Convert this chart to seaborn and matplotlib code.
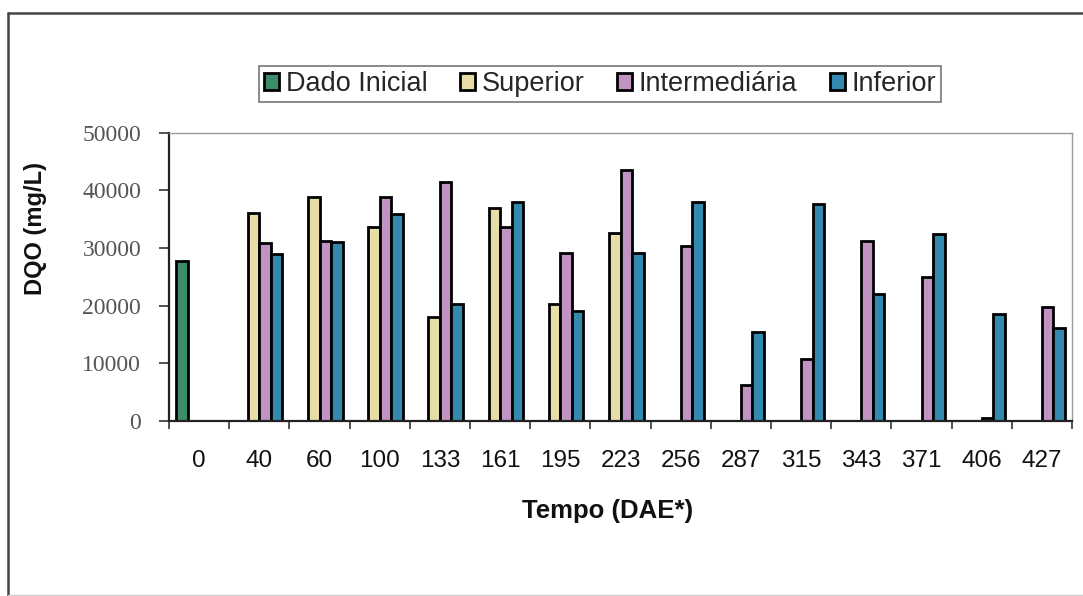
import numpy as np
import pandas as pd
import matplotlib
matplotlib.use("Agg")
import matplotlib.pyplot as plt
from matplotlib.lines import Line2D
import seaborn as sns

nan = np.nan
categories = ["0", "40", "60", "100", "133", "161", "195", "223", "256",
              "287", "315", "343", "371", "406", "427"]
series_names = ["Dado Inicial", "Superior", "Intermediária", "Inferior"]
dado_inicial = [27700, nan, nan, nan, nan, nan, nan, nan, nan, nan, nan, nan, nan, nan, nan]
superior = [nan, 36100, 38800, 33700, 18000, 36900, 20300, 32600, nan, nan, nan, nan, nan, nan, nan]
intermediaria = [nan, 30800, 31300, 38800, 41400, 33600, 29100, 43500, 30400, 6200, 10700, 31200, 24900, 500, 19800]
inferior = [nan, 29000, 31000, 35900, 20300, 38000, 19000, 29100, 38000, 15500, 37600, 22000, 32500, 18600, 16200]
colors = ["#2E9A6B", "#F2E59C", "#C98BCB", "#1F93C2"]

rows = []
for name, vals in zip(series_names, [dado_inicial, superior, intermediaria, inferior]):
    for c, v in zip(categories, vals):
        rows.append({"Tempo": c, "Serie": name, "DQO": v})
df = pd.DataFrame(rows)

sns.set_theme(style="white")
plt.rcParams["font.family"] = ["Liberation Sans", "DejaVu Sans"]

fig = plt.figure(figsize=(10.83, 5.96), dpi=100)
ax = fig.add_axes([169 / 1083, 1 - 421 / 596, (1072 - 169) / 1083, (421 - 132.7) / 596])

sns.barplot(data=df, x="Tempo", y="DQO", hue="Serie", order=categories,
            hue_order=series_names, palette=colors, width=0.77, gap=0,
            edgecolor="black", linewidth=2.0, errorbar=None, ax=ax)

ax.set_xlim(-0.5, len(categories) - 0.5)
ax.set_ylim(0, 50000)
ax.set_yticks([0, 10000, 20000, 30000, 40000, 50000])
ax.set_yticklabels(["0", "10000", "20000", "30000", "40000", "50000"],
                   family=["Liberation Serif", "DejaVu Serif"], fontsize=17, color="#555555")
ax.tick_params(axis="y", which="major", direction="out", length=7, width=1.2,
               color="#333333", pad=13, left=True)
ax.tick_params(axis="x", which="major", length=0, pad=21, labelsize=17.5, labelcolor="#111111")
ax.set_xticks(np.arange(-0.5, len(categories), 1.0), minor=True)
ax.tick_params(axis="x", which="minor", direction="out", length=6, width=1.2,
               color="#333333", bottom=True)

for s in ["left", "bottom"]:
    ax.spines[s].set_color("#222222")
    ax.spines[s].set_linewidth(1.6)
for s in ["top", "right"]:
    ax.spines[s].set_color("#9a9a9a")
    ax.spines[s].set_linewidth(1.0)

ax.set_ylabel("DQO (mg/L)", fontsize=17, fontweight="bold", color="#111111")
ax.yaxis.set_label_coords(-0.135, 0.668)
ax.set_xlabel("Tempo (DAE*)", fontsize=18.5, fontweight="bold", color="#111111")
ax.xaxis.set_label_coords(0.486, -0.27)

handles, labels = ax.get_legend_handles_labels()
if ax.get_legend() is not None:
    ax.get_legend().remove()
leg = fig.legend(handles, labels, loc="center", bbox_to_anchor=(600 / 1083, 1 - 84 / 596),
                 ncol=4, frameon=True, fancybox=False, shadow=False, fontsize=19.5,
                 handlelength=0.55, handleheight=0.55, handletextpad=0.25,
                 columnspacing=1.2, borderpad=0.2, borderaxespad=0)
leg.get_frame().set_edgecolor("#555555")
leg.get_frame().set_linewidth(1.2)

# outer chart frame
fig.add_artist(Line2D([8 / 1083, 8 / 1083], [0.0, 1 - 13 / 596], transform=fig.transFigure,
                      color="#444444", linewidth=1.8))
fig.add_artist(Line2D([8 / 1083, 1.0], [1 - 13 / 596, 1 - 13 / 596], transform=fig.transFigure,
                      color="#444444", linewidth=1.8))
fig.add_artist(Line2D([8 / 1083, 1.0], [1 / 596, 1 / 596], transform=fig.transFigure,
                      color="#cccccc", linewidth=1.0))

fig.savefig("out.png", dpi=100, facecolor="white")
